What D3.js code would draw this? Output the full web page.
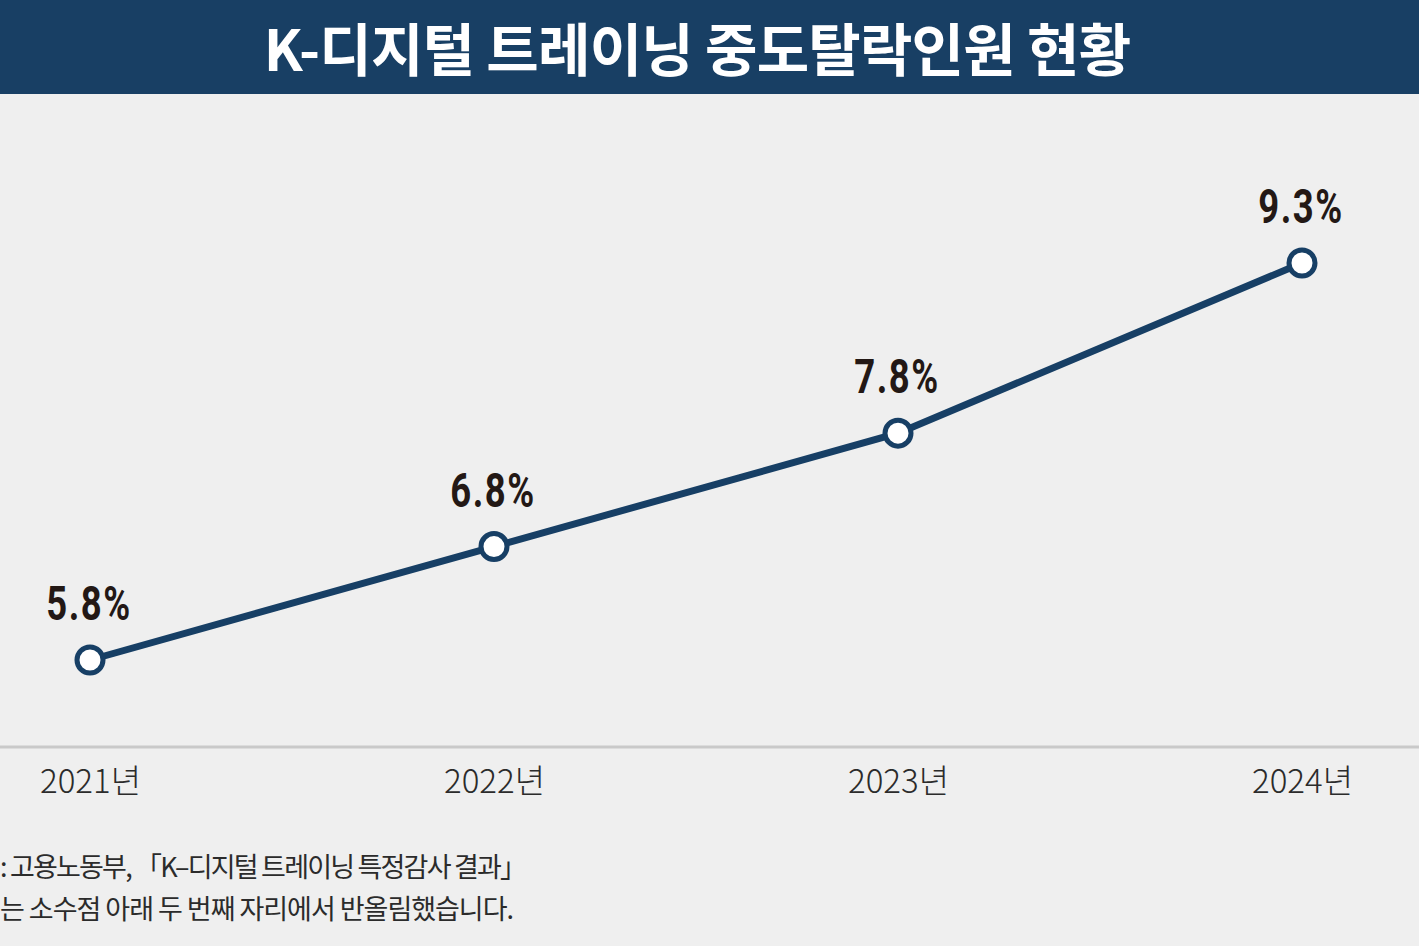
<!DOCTYPE html>
<html>
<head>
<meta charset="utf-8">
<script src="https://cdn.jsdelivr.net/npm/d3@7"></script>
<style>
  body { margin: 0; background: #efefef; }
  svg { display: block; }
</style>
</head>
<body>
<svg id="chart"></svg>
<script>
// chart data
var years = ['2021년', '2022년', '2023년', '2024년'];
var rates = [5.8, 6.8, 7.8, 9.3];
var rateLabels = ['5.8%', '6.8%', '7.8%', '9.3%'];

var titleText = 'K-디지털 트레이닝 중도탈락인원 현황';
// the source notes are cut at the left edge in the original
var sourceLines = [
  ': 고용노동부, 「K–디지털 트레이닝 특정감사 결과」',
  '는 소수점 아래 두 번째 자리에서 반올림했습니다.'
];

var width = 1419, height = 946;
var navy = '#173f65';

var svg = d3.select('#chart')
  .attr('width', width)
  .attr('height', height);

svg.append('rect')
  .attr('width', width).attr('height', height)
  .attr('fill', '#efefef');

// title bar
svg.append('rect')
  .attr('x', 0).attr('y', 0)
  .attr('width', width).attr('height', 94)
  .attr('fill', '#183f64');

svg.append('text')
  .attr('x', 697).attr('y', 71)
  .attr('text-anchor', 'middle')
  .attr('fill', '#fff')
  .attr('font-family', '"Noto Sans CJK KR", "Noto Sans", sans-serif')
  .attr('font-weight', 700)
  .attr('font-size', 57)
  .attr('letter-spacing', -0.8)
  .text(titleText);

// scales
var x = d3.scalePoint()
  .domain(years)
  .range([90, 1302]);

var y = d3.scaleLinear()
  .domain([5.8, 9.3])
  .range([660, 263]);

// baseline axis
var axis = d3.axisBottom(x).tickSize(0).tickPadding(0);
var gx = svg.append('g')
  .attr('transform', 'translate(0,747)')
  .call(axis);

gx.select('.domain').remove();
gx.append('line')
  .attr('x1', 0).attr('x2', width)
  .attr('stroke', '#c9c9c9')
  .attr('stroke-width', 3);

gx.selectAll('.tick text')
  .attr('dy', 0)
  .attr('y', 46)
  .attr('fill', '#2b2b2b')
  .attr('font-family', '"Noto Sans CJK KR", sans-serif')
  .attr('font-weight', 300)
  .attr('font-size', 33)
  .attr('letter-spacing', 0);

var data = years.map(function(d, i) {
  return {year: d, rate: rates[i], label: rateLabels[i]};
});

// line
var line = d3.line()
  .x(function(d) { return x(d.year); })
  .y(function(d) { return y(d.rate); });

svg.append('path')
  .datum(data)
  .attr('d', line)
  .attr('fill', 'none')
  .attr('stroke', navy)
  .attr('stroke-width', 7);

// points
svg.selectAll('circle.pt')
  .data(data)
  .enter()
  .append('circle')
  .attr('class', 'pt')
  .attr('cx', function(d) { return x(d.year); })
  .attr('cy', function(d) { return y(d.rate); })
  .attr('r', 13)
  .attr('fill', '#fff')
  .attr('stroke', navy)
  .attr('stroke-width', 5);

// value labels (condensed by horizontal scaling)
svg.selectAll('text.val')
  .data(data)
  .enter()
  .append('text')
  .attr('class', 'val')
  .attr('transform', function(d) {
    return 'translate(' + (x(d.year) - 1) + ',' + (y(d.rate) - 40) + ') scale(0.76,1)';
  })
  .attr('text-anchor', 'middle')
  .attr('fill', '#231815')
  .attr('font-family', 'Roboto, "Liberation Sans", sans-serif')
  .attr('font-weight', 700)
  .attr('font-size', 48)
  .attr('letter-spacing', 2)
  .text(function(d) { return d.label; });

// source notes
svg.selectAll('text.src')
  .data(sourceLines)
  .enter()
  .append('text')
  .attr('class', 'src')
  .attr('x', 0)
  .attr('y', function(d, i) { return 877 + i * 42; })
  .attr('fill', '#2b2b2b')
  .attr('font-family', '"Noto Sans CJK KR", sans-serif')
  .attr('font-weight', 400)
  .attr('font-size', 27)
  .attr('textLength', function(d, i) { return i === 0 ? 527 : 514; })
  .attr('lengthAdjust', 'spacing')
  .text(function(d) { return d; });
</script>
</body>
</html>
